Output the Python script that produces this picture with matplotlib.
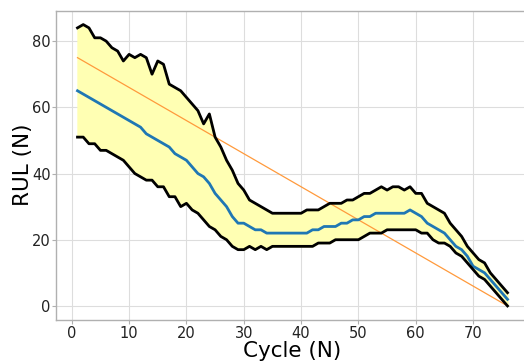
import matplotlib
matplotlib.use("Agg")
import matplotlib.pyplot as plt
import numpy as np

cycles = list(range(1, 77))
upper = [84, 85, 84, 81, 81, 80, 78, 77, 74, 76, 75, 76, 75, 70, 74, 73, 67, 66, 65, 63,
         61, 59, 55, 58, 51, 48, 44, 41, 37, 35, 32, 31, 30, 29, 28, 28, 28, 28, 28, 28,
         29, 29, 29, 30, 31, 31, 31, 32, 32, 33, 34, 34, 35, 36, 35, 36, 36, 35, 36, 34,
         34, 31, 30, 29, 28, 25, 23, 21, 18, 16, 14, 13, 10, 8, 6, 4]
lower = [51, 51, 49, 49, 47, 47, 46, 45, 44, 42, 40, 39, 38, 38, 36, 36, 33, 33, 30, 31,
         29, 28, 26, 24, 23, 21, 20, 18, 17, 17, 18, 17, 18, 17, 18, 18, 18, 18, 18, 18,
         18, 18, 19, 19, 19, 20, 20, 20, 20, 20, 21, 22, 22, 22, 23, 23, 23, 23, 23, 23,
         22, 22, 20, 19, 19, 18, 16, 15, 13, 11, 9, 8, 6, 4, 2, 0]
mean = [65, 64, 63, 62, 61, 60, 59, 58, 57, 56, 55, 54, 52, 51, 50, 49, 48, 46, 45, 44,
        42, 40, 39, 37, 34, 32, 30, 27, 25, 25, 24, 23, 23, 22, 22, 22, 22, 22, 22, 22,
        22, 23, 23, 24, 24, 24, 25, 25, 26, 26, 27, 27, 28, 28, 28, 28, 28, 28, 29, 28,
        27, 25, 24, 23, 22, 20, 18, 17, 15, 12, 11, 10, 8, 6, 4, 2]
true_rul = [76 - c for c in cycles]

fig = plt.figure(figsize=(5.24, 3.61), dpi=100)
ax = fig.add_axes([56/524, 1 - 320/361, (529 - 56)/524, (320 - 10.5)/361])

ax.fill_between(cycles, lower, upper, color=(1, 1, 0.7), zorder=1)
ax.plot(cycles, true_rul, color="#ff9a3c", lw=0.9, zorder=2)
ax.plot(cycles, mean, color="#1f77b4", lw=2, zorder=3)
ax.plot(cycles, upper, color="black", lw=2, zorder=4)
ax.plot(cycles, lower, color="black", lw=2, zorder=4)

ax.set_xlim(-2.75, 79.75)
ax.set_ylim(-4.25, 89.25)
ax.set_xticks([0, 10, 20, 30, 40, 50, 60, 70])
ax.set_yticks([0, 20, 40, 60, 80])
ax.grid(True, color="#dddddd", lw=0.8)
ax.set_axisbelow(True)
for s in ax.spines.values():
    s.set_color("#b0b0b0")
    s.set_linewidth(1.0)
ax.tick_params(length=3, width=0.8, color="#b0b0b0", labelsize=10.5,
               labelcolor="#222222", pad=1)
ax.set_xlabel("Cycle (N)", fontsize=15.5, labelpad=0)
ax.set_ylabel("RUL (N)", fontsize=15.5, labelpad=-1)

fig.savefig("out.png", dpi=100)
